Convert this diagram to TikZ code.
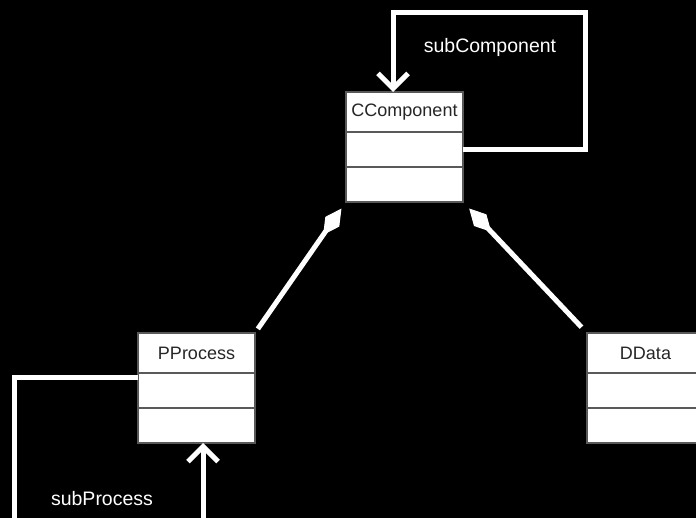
\documentclass[tikz,border=0pt]{standalone}
\usepackage{fontspec}
\setmainfont{Liberation Sans}
\usetikzlibrary{arrows.meta, positioning}
\tikzstyle{classhead} = [rectangle, minimum width=117pt, minimum height=40pt, inner sep=0pt, outer sep=0pt, draw=black!65, line width=1.5pt, fill=white, text=black!85, font=\fontsize{18}{19}\selectfont]
\tikzstyle{classpart} = [classhead, minimum height=35pt]
\tikzstyle{assoc} = [draw=white, line width=5pt, -{Straight Barb[length=15pt,width=30pt]}]
\tikzstyle{compo} = [draw=white, line width=5pt, -{Diamond[length=32pt,width=17pt,line width=1pt]}]
\tikzstyle{rolelabel} = [text=white, font=\fontsize{19.5}{21}\selectfont]

\begin{document}
\begin{tikzpicture}[x=1pt, y=-1pt]

\path[use as bounding box, fill=black] (0,0) rectangle (696,518);
\clip (0,0) rectangle (696,518);

\node (comp) [classhead] at (404.5,112) {CComponent};
\node (compA) [classpart, below=0pt of comp] {};
\node (compB) [classpart, below=0pt of compA] {};

\node (proc) [classhead] at (196.5,353) {PProcess};
\node (procA) [classpart, below=0pt of proc] {};
\node (procB) [classpart, below=0pt of procA] {};

\node (data) [classhead] at (645.5,353) {DData};
\node (dataA) [classpart, below=0pt of data] {};
\node (dataB) [classpart, below=0pt of dataA] {};

\node (subcomp) [rolelabel] at (490,47) {subComponent};
\node (subproc) [rolelabel] at (102,499) {subProcess};

\coordinate (loopc) at (585,13);
\coordinate (loopp) at (14.5,532);

\draw [assoc] (compA.east) -| (loopc) -| ([xshift=-11.5pt]comp.north);
\draw [assoc] ([yshift=13pt]procA.west) -| (loopp) -| ([xshift=6.5pt]procB.south);

\draw [compo, shorten <=5pt, shorten >=8pt] (proc.north east) -- (compB.south west);
\draw [compo, shorten <=8pt, shorten >=9pt] (data.north west) -- (compB.south east);

\end{tikzpicture}
\end{document}
